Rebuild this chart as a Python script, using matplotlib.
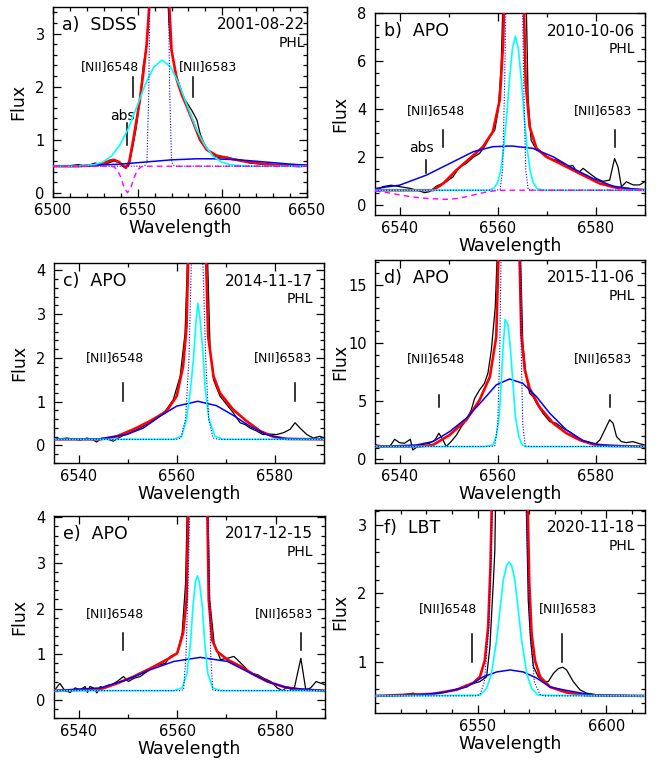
import numpy as np
import matplotlib
matplotlib.use('Agg')
import matplotlib.pyplot as plt
from matplotlib.ticker import MultipleLocator

# ---------------- a) SDSS 2001-08-22  (wavelength, flux)
a_obs = [(6500, 0.50), (6505, 0.50), (6510, 0.51), (6515, 0.53), (6518, 0.51), (6522, 0.53),
         (6525, 0.56), (6528, 0.53), (6532, 0.55), (6536, 0.60), (6539, 0.57), (6541, 0.50),
         (6543, 0.47), (6545, 0.53), (6547, 0.85), (6549, 1.20), (6551.3, 1.75), (6553.3, 2.40),
         (6555.3, 2.75), (6556.5, 3.30), (6558, 4.2), (6562.5, 10.0), (6567, 4.2), (6568.5, 3.2),
         (6569.5, 2.75), (6571, 2.50), (6573, 2.20), (6576, 1.90), (6578, 1.75), (6580, 1.65),
         (6582, 1.55), (6585, 1.37), (6587, 1.10), (6589, 0.94), (6592, 0.78), (6595, 0.69),
         (6599, 0.66), (6603, 0.67), (6607, 0.63), (6610.5, 0.62), (6613, 0.60), (6616, 0.56),
         (6620, 0.55), (6626, 0.53), (6632, 0.52), (6640, 0.50), (6645, 0.49), (6650, 0.50)]
a_fit = [(6500, 0.50), (6515, 0.50), (6525, 0.52), (6530, 0.56), (6534, 0.61), (6536, 0.62),
         (6539, 0.58), (6541, 0.52), (6543, 0.47), (6545, 0.58), (6547.4, 1.00), (6549.5, 1.40),
         (6551.3, 1.75), (6553.3, 2.25), (6555.3, 2.80), (6556.8, 3.50), (6558, 4.5), (6562.5, 12.0),
         (6567.5, 4.5), (6568.7, 3.50), (6570, 2.69), (6573.1, 2.13), (6576, 1.85), (6579, 1.63),
         (6583, 1.31), (6586.8, 1.00), (6590.8, 0.81), (6596.7, 0.70), (6606.6, 0.63), (6615, 0.58),
         (6625, 0.54), (6635, 0.52), (6650, 0.51)]
a_broad = [(6500, 0.50), (6520, 0.51), (6540, 0.54), (6555, 0.58), (6570, 0.62), (6585, 0.64),
           (6595, 0.64), (6610, 0.62), (6625, 0.58), (6640, 0.54), (6650, 0.52)]
a_inter = [(6500, 0.50), (6514.5, 0.50), (6524.5, 0.53), (6529.5, 0.58), (6534.5, 0.69),
           (6539.5, 0.90), (6544.5, 1.21), (6549.5, 1.62), (6554.5, 2.04), (6559.5, 2.37),
           (6564.5, 2.50), (6569.5, 2.37), (6574.5, 2.04), (6579.5, 1.62), (6584.5, 1.21),
           (6589.5, 0.90), (6594.5, 0.69), (6599.5, 0.58), (6604.5, 0.53), (6614.5, 0.50), (6650, 0.50)]
a_narrow = [(6500, 0.50), (6553, 0.50), (6554.5, 0.52), (6555.5, 0.60), (6556.5, 1.8), (6557.2, 3.6),
            (6559, 10), (6562.7, 20), (6566.5, 10), (6568.2, 3.6), (6569, 1.8), (6570, 0.60),
            (6571, 0.52), (6573, 0.50), (6650, 0.50)]
a_absorb = [(6500, 0.50), (6534, 0.50), (6536, 0.486), (6538, 0.432), (6540, 0.294), (6542, 0.10),
            (6544, 0.0), (6546, 0.10), (6548, 0.294), (6550, 0.432), (6552, 0.486), (6554, 0.50),
            (6650, 0.50)]

# ---------------- b) APO 2010-10-06
b_obs = [(6535.3, 0.64), (6536.6, 0.78), (6538.3, 0.84), (6540.0, 0.78), (6542.1, 0.71),
         (6543.4, 0.64), (6545.1, 0.53), (6546.1, 0.57), (6547.5, 0.80), (6549.5, 0.98),
         (6550.9, 1.19), (6552.2, 1.60), (6553.6, 1.74), (6555.0, 2.00), (6556.3, 2.16),
         (6557.3, 2.44), (6558.4, 2.85), (6559.4, 3.13), (6560.1, 3.96), (6560.7, 5.76),
         (6561.2, 9.5), (6563.4, 12.0), (6565.7, 9.5), (6566.2, 4.38), (6566.8, 2.71),
         (6567.9, 2.30), (6569.2, 2.16), (6570.6, 1.95), (6571.9, 1.88), (6573.3, 1.75),
         (6574.0, 1.60), (6575.3, 1.66), (6576.3, 1.33), (6577.4, 1.54), (6578.7, 1.33),
         (6580.1, 1.12), (6581.4, 1.00), (6582.8, 1.05), (6583.8, 1.95), (6584.5, 1.60),
         (6585.2, 0.78), (6586.2, 0.98), (6587.6, 0.85), (6588.9, 0.85), (6589.9, 0.98)]
b_fit = [(6535.0, 0.63), (6546.8, 0.63), (6548.9, 0.91), (6551.6, 1.47), (6554.3, 1.95),
         (6557.0, 2.44), (6559.0, 3.06), (6560.4, 4.38), (6561.1, 6.73), (6561.4, 9.5),
         (6563.3, 14.0), (6565.2, 9.5), (6565.7, 5.07), (6566.5, 3.27), (6567.9, 2.37),
         (6569.9, 2.02), (6572.6, 1.75), (6575.3, 1.47), (6578.0, 1.19), (6580.8, 0.91),
         (6584.2, 0.73), (6587.6, 0.66), (6590.0, 0.64)]
b_broad = [(6535.0, 0.70), (6540.0, 0.84), (6545.5, 1.26), (6550.2, 1.74), (6555.0, 2.23),
           (6559.0, 2.44), (6562.8, 2.47), (6567.2, 2.37), (6571.3, 2.02), (6575.3, 1.54),
           (6579.4, 1.12), (6583.5, 0.80), (6587.6, 0.68), (6590.0, 0.64)]
b_inter = [(6535.0, 0.63), (6558.1, 0.63), (6559.2, 0.71), (6560.0, 0.96), (6560.6, 1.45),
           (6561.2, 2.35), (6561.8, 3.68), (6562.4, 5.24), (6563.0, 6.52), (6563.6, 7.03),
           (6564.2, 6.52), (6564.8, 5.24), (6565.4, 3.68), (6566.0, 2.35), (6566.6, 1.45),
           (6567.2, 0.96), (6568.0, 0.71), (6569.1, 0.63), (6590.0, 0.63)]
b_narrow = [(6535.0, 0.63), (6559.5, 0.63), (6560.5, 0.66), (6561.0, 1.5), (6561.4, 5.0),
            (6561.7, 9.0), (6563.4, 20.0), (6565.0, 9.0), (6565.3, 5.0), (6565.7, 1.5),
            (6566.2, 0.66), (6567.2, 0.63), (6590.0, 0.63)]
b_absorb = [(6535.0, 0.60), (6537.5, 0.53), (6540.0, 0.44), (6542.5, 0.35), (6545.5, 0.29),
            (6549.5, 0.25), (6552.0, 0.29), (6554.0, 0.38), (6556.0, 0.48), (6558.0, 0.57),
            (6560.0, 0.62), (6562.0, 0.63), (6590.0, 0.63)]

# ---------------- c) APO 2014-11-17
c_obs = [(6535.2, 0.14), (6536.2, 0.15), (6537.6, 0.17), (6538.9, 0.15), (6540.3, 0.12),
         (6541.7, 0.17), (6542.7, 0.14), (6543.7, 0.08), (6544.7, 0.17), (6545.7, 0.15),
         (6547.1, 0.10), (6548.1, 0.17), (6549.1, 0.23), (6550.1, 0.27), (6551.2, 0.33),
         (6552.5, 0.40), (6554.6, 0.52), (6556.6, 0.67), (6557.9, 0.82), (6559.3, 1.05),
         (6560.7, 1.58), (6561.7, 2.57), (6562.4, 5.0), (6564.2, 10.0), (6566.1, 5.0),
         (6566.8, 2.19), (6567.5, 1.50), (6568.8, 1.13), (6571.5, 0.75), (6572.9, 0.52),
         (6573.9, 0.48), (6574.9, 0.40), (6576.3, 0.33), (6577.6, 0.25), (6579.0, 0.26),
         (6580.3, 0.25), (6581.7, 0.29), (6583.1, 0.37), (6584.1, 0.52), (6585.1, 0.40),
         (6586.5, 0.25), (6587.8, 0.17), (6589.2, 0.21), (6590.0, 0.17)]
c_fit = [(6535.0, 0.14), (6544.4, 0.14), (6547.8, 0.21), (6551.2, 0.37), (6554.6, 0.56),
         (6557.9, 0.78), (6560.0, 1.13), (6561.3, 1.81), (6562.0, 2.72), (6562.5, 5.0),
         (6564.2, 12.0), (6565.8, 5.0), (6566.4, 2.49), (6567.5, 1.58), (6568.8, 1.20),
         (6571.5, 0.82), (6574.2, 0.56), (6577.0, 0.33), (6579.7, 0.20), (6582.4, 0.15),
         (6590.0, 0.14)]
c_broad = [(6535.0, 0.14), (6544.4, 0.15), (6549.8, 0.25), (6553.2, 0.40), (6556.6, 0.67),
           (6560.0, 0.90), (6564.3, 1.01), (6568.1, 0.91), (6571.5, 0.69), (6574.9, 0.44),
           (6578.3, 0.25), (6581.7, 0.16), (6590.0, 0.14)]
c_inter = [(6535.0, 0.14), (6559.3, 0.14), (6561.0, 0.21), (6562.0, 0.59), (6562.8, 1.28),
           (6563.4, 1.96), (6563.9, 2.80), (6564.3, 3.25), (6564.7, 2.94), (6565.3, 2.18),
           (6565.8, 1.28), (6566.6, 0.59), (6567.8, 0.21), (6569.5, 0.14), (6590.0, 0.14)]
c_narrow = [(6535.0, 0.14), (6560.0, 0.14), (6560.8, 0.17), (6561.8, 0.6), (6562.5, 2.0),
            (6563.0, 4.3), (6564.2, 10.0), (6565.3, 4.3), (6565.9, 2.0), (6566.5, 0.6),
            (6567.4, 0.17), (6568.5, 0.14), (6590.0, 0.14)]

# ---------------- d) APO 2015-11-06
d_obs = [(6535.3, 1.23), (6536.6, 1.15), (6538.0, 1.09), (6539.0, 1.72), (6540.0, 1.43),
         (6541.0, 1.38), (6542.2, 1.72), (6542.7, 0.80), (6544.1, 1.23), (6546.1, 1.38),
         (6547.2, 1.66), (6548.0, 2.24), (6548.8, 1.72), (6549.5, 1.09), (6550.5, 1.52),
         (6551.6, 2.09), (6552.6, 2.81), (6553.6, 3.38), (6554.6, 4.24), (6555.3, 5.25),
         (6556.3, 5.97), (6557.3, 6.54), (6558.0, 7.40), (6558.7, 9.40), (6559.5, 13.1),
         (6560.1, 20.0), (6562.5, 40.0), (6564.5, 20.0), (6565.1, 10.0), (6565.8, 7.10),
         (6566.5, 5.68), (6567.2, 5.39), (6567.9, 4.82), (6569.2, 3.96), (6570.6, 3.24),
         (6571.9, 3.10), (6573.3, 2.67), (6574.6, 2.38), (6576.0, 1.95), (6577.4, 1.52),
         (6578.7, 1.43), (6579.7, 1.23), (6580.8, 1.66), (6581.8, 2.52), (6582.8, 3.40),
         (6583.5, 3.10), (6584.2, 1.95), (6585.2, 1.52), (6586.2, 1.43), (6587.5, 1.52),
         (6588.6, 1.38), (6589.9, 1.23)]
d_fit = [(6535.0, 1.10), (6544.1, 1.10), (6546.8, 1.23), (6550.2, 2.09), (6553.6, 3.38),
         (6556.3, 5.10), (6558.4, 7.10), (6559.7, 10.55), (6560.3, 20.0), (6562.5, 45.0),
         (6564.3, 20.0), (6564.8, 10.8), (6565.5, 7.70), (6566.5, 6.10), (6568.5, 4.50),
         (6571.3, 3.10), (6574.0, 2.24), (6576.7, 1.66), (6579.4, 1.29), (6582.8, 1.15),
         (6590.0, 1.10)]
d_broad = [(6535.0, 1.09), (6543.4, 1.23), (6546.8, 1.52), (6550.2, 2.38), (6553.6, 3.53),
           (6557.0, 5.10), (6559.7, 6.40), (6562.4, 6.91), (6565.1, 6.54), (6567.9, 5.39),
           (6570.6, 3.96), (6574.0, 2.52), (6577.4, 1.61), (6580.8, 1.23), (6590.0, 1.09)]
d_inter = [(6535.0, 1.10), (6557.3, 1.09), (6559.0, 1.23), (6559.7, 1.95), (6560.3, 3.67),
           (6560.7, 6.54), (6561.1, 9.69), (6561.5, 12.04), (6562.1, 11.56), (6562.6, 9.41),
           (6563.1, 6.54), (6563.6, 3.67), (6564.3, 1.95), (6565.0, 1.23), (6565.8, 1.09),
           (6590.0, 1.10)]
d_narrow = [(6535.0, 1.10), (6558.5, 1.10), (6559.4, 1.15), (6560.0, 3.0), (6560.4, 9.0),
            (6560.7, 18.0), (6562.6, 40.0), (6564.5, 18.0), (6564.8, 9.0), (6565.1, 3.0),
            (6565.6, 1.15), (6566.5, 1.10), (6590.0, 1.10)]

# ---------------- e) APO 2017-12-15
e_obs = [(6535.2, 0.22), (6536.2, 0.36), (6537.2, 0.20), (6538.3, 0.16), (6539.3, 0.26),
         (6540.3, 0.22), (6541.3, 0.29), (6541.8, 0.16), (6542.3, 0.29), (6543.0, 0.26),
         (6543.7, 0.15), (6544.4, 0.29), (6545.0, 0.26), (6545.7, 0.31), (6546.7, 0.33),
         (6547.8, 0.40), (6549.1, 0.51), (6550.1, 0.40), (6551.2, 0.47), (6552.5, 0.51),
         (6553.9, 0.62), (6555.2, 0.73), (6556.6, 0.77), (6557.6, 0.80), (6558.6, 0.95),
         (6560.0, 1.02), (6561.0, 1.46), (6561.7, 2.55), (6562.2, 5.0), (6564.0, 10.0),
         (6566.1, 5.0), (6566.6, 2.19), (6567.5, 1.24), (6568.8, 0.88), (6570.2, 0.91),
         (6571.5, 0.95), (6572.2, 0.88), (6573.6, 0.73), (6574.9, 0.58), (6576.3, 0.55),
         (6577.6, 0.47), (6579.0, 0.40), (6580.3, 0.26), (6581.4, 0.20), (6582.4, 0.29),
         (6583.1, 0.22), (6583.7, 0.22), (6585.1, 0.91), (6586.1, 0.22), (6587.1, 0.26),
         (6588.2, 0.40), (6589.2, 0.36), (6590.0, 0.33)]
e_fit = [(6535.0, 0.20), (6544.4, 0.23), (6547.8, 0.36), (6551.2, 0.51), (6554.6, 0.69),
         (6557.9, 0.88), (6560.0, 1.02), (6561.2, 1.46), (6561.9, 2.19), (6562.4, 5.0),
         (6564.0, 12.0), (6566.0, 5.0), (6566.4, 2.19), (6567.1, 1.31), (6568.1, 1.06),
         (6570.2, 0.88), (6572.9, 0.73), (6575.6, 0.55), (6578.3, 0.40), (6581.7, 0.28),
         (6585.1, 0.22), (6590.0, 0.20)]
e_broad = [(6535.0, 0.20), (6544.4, 0.26), (6549.8, 0.44), (6554.6, 0.66), (6559.3, 0.84),
           (6564.7, 0.93), (6570.2, 0.84), (6574.2, 0.62), (6578.3, 0.40), (6582.4, 0.26),
           (6590.0, 0.20)]
e_inter = [(6535.0, 0.20), (6559.3, 0.20), (6561.0, 0.26), (6562.0, 0.58), (6562.7, 1.24),
           (6563.2, 2.04), (6563.7, 2.59), (6564.1, 2.72), (6564.5, 2.59), (6565.1, 2.04),
           (6565.6, 1.24), (6566.2, 0.58), (6567.2, 0.26), (6568.8, 0.20), (6590.0, 0.20)]
e_narrow = [(6535.0, 0.20), (6560.5, 0.20), (6561.3, 0.22), (6561.8, 1.0), (6562.2, 2.5),
            (6562.6, 4.5), (6564.3, 9.0), (6566.1, 4.5), (6566.5, 2.5), (6566.8, 1.0),
            (6567.2, 0.22), (6568.0, 0.20), (6590.0, 0.20)]

# ---------------- f) LBT 2020-11-18
f_obs = [(6510.0, 0.50), (6519.6, 0.51), (6524.8, 0.54), (6527.4, 0.51), (6532.6, 0.53),
         (6537.8, 0.56), (6543.0, 0.61), (6545.6, 0.66), (6548.2, 0.68), (6550.8, 0.71),
         (6553.4, 0.78), (6554.7, 1.22), (6555.3, 1.66), (6556.0, 2.15), (6556.6, 2.63),
         (6557.0, 3.6), (6563.0, 8.0), (6568.7, 3.6), (6569.6, 1.90), (6570.5, 1.32),
         (6571.6, 0.93), (6573.5, 0.78), (6575.5, 0.71), (6577.4, 0.71), (6579.4, 0.83),
         (6581.3, 0.90), (6583.0, 0.92), (6584.5, 0.88), (6587.1, 0.71), (6589.7, 0.59),
         (6592.3, 0.54), (6597.5, 0.51), (6604.0, 0.50)]
f_fit = [(6510.0, 0.50), (6532.6, 0.53), (6541.7, 0.59), (6548.2, 0.69), (6550.8, 0.78),
         (6552.7, 1.02), (6554.0, 1.51), (6554.9, 2.39), (6555.6, 3.6), (6563.0, 8.0),
         (6569.2, 3.6), (6570.0, 2.15), (6570.9, 1.41), (6572.2, 1.02), (6574.2, 0.78),
         (6578.1, 0.63), (6584.5, 0.55), (6592.3, 0.51), (6615.0, 0.50)]
f_broad = [(6510.0, 0.50), (6526.1, 0.51), (6536.5, 0.55), (6545.6, 0.63), (6552.1, 0.78),
           (6557.3, 0.85), (6562.5, 0.88), (6567.7, 0.85), (6572.9, 0.76), (6578.1, 0.63),
           (6584.5, 0.58), (6594.9, 0.51), (6615.0, 0.50)]
f_inter = [(6510.0, 0.50), (6550.8, 0.51), (6553.4, 0.61), (6555.3, 0.83), (6557.3, 1.32),
           (6558.6, 1.76), (6559.9, 2.20), (6561.2, 2.41), (6562.1, 2.46), (6563.1, 2.41),
           (6564.4, 2.20), (6565.7, 1.76), (6567.0, 1.32), (6569.0, 0.83), (6570.9, 0.61),
           (6573.5, 0.51), (6615.0, 0.50)]
f_narrow = [(6510.0, 0.50), (6549.0, 0.50), (6550.8, 0.52), (6552.5, 0.70), (6554.3, 1.5),
            (6555.7, 3.3), (6562.2, 8.0), (6568.7, 3.3), (6570.2, 1.5), (6572.0, 0.70),
            (6574.2, 0.52), (6576.0, 0.50), (6615.0, 0.50)]

# panel texts and line markers
labels = ['a)  SDSS', 'b)  APO', 'c)  APO', 'd)  APO', 'e)  APO', 'f)  LBT']
dates = ['2001-08-22', '2010-10-06', '2014-11-17', '2015-11-06', '2017-12-15', '2020-11-18']
nii_text_x = [(6533.7, 6591.6), (6547.4, 6581.4), (6547.4, 6581.6), (6547.4, 6581.4), (6547.4, 6581.6), (6538.4, 6585.2)]
nii_text_y = [2.37, 3.96, 2.0, 8.7, 1.9, 1.78]
nii_mark_x = [(6547.4, 6582.9), (6548.85, 6583.8), (6549.1, 6584.0), (6548.0, 6582.8), (6549.1, 6585.1), (6547.9, 6582.9)]
nii_mark_y = [(1.81, 2.19), (2.44, 3.13), (1.01, 1.43), (4.5, 5.5), (1.09, 1.46), (1.0, 1.41)]
abs_text = {0: (6541.3, 1.44), 1: (6544.4, 2.37)}
abs_mark = {0: (6543.7, 0.90, 1.31), 1: (6545.3, 1.33, 1.90)}

# axes setup: pixel boxes (left, top, right, bottom), limits, tick steps
W, H = 666, 761
boxes = [(53, 7, 307, 197), (375, 13, 645, 215), (54, 263, 324, 463),
         (375, 260, 645, 463), (54, 516, 325, 718), (375, 510, 645, 713)]
xlims = [(6500, 6650), (6535, 6590), (6535, 6590), (6535, 6590), (6535, 6590), (6510, 6615)]
ylims = [(-0.08, 3.5), (-0.4, 8.0), (-0.4, 4.17), (-0.32, 17.15), (-0.4, 4.03), (0.25, 3.22)]
xsteps = [(50, 10), (20, 10), (20, 10), (20, 10), (20, 10), (50, 10)]
ysteps = [(1, 0.2), (2, 0.5), (1, 0.2), (5, 1), (1, 0.2), (1, 0.2)]
date_dx = [-2, -10, -11, -10, -12, -10]

spectra = [
    (a_obs, a_fit, a_broad, a_inter, a_narrow, a_absorb),
    (b_obs, b_fit, b_broad, b_inter, b_narrow, b_absorb),
    (c_obs, c_fit, c_broad, c_inter, c_narrow, None),
    (d_obs, d_fit, d_broad, d_inter, d_narrow, None),
    (e_obs, e_fit, e_broad, e_inter, e_narrow, None),
    (f_obs, f_fit, f_broad, f_inter, f_narrow, None),
]

plt.rcParams['font.family'] = 'DejaVu Sans'
fig = plt.figure(figsize=(W / 100, H / 100), dpi=100)

for i, (obs, fit, broad, inter, narrow, absorb) in enumerate(spectra):
    l, t, r, b = boxes[i]
    ax = fig.add_axes([l / W, 1 - b / H, (r - l) / W, (b - t) / H])
    ax.plot(*zip(*obs), color='black', lw=0.9, zorder=2)
    ax.plot(*zip(*fit), color='red', lw=1.9, zorder=3)
    ax.plot(*zip(*broad), color='blue', lw=1.1, zorder=4)
    ax.plot(*zip(*inter), color='cyan', lw=1.2, zorder=5)
    ax.plot(*zip(*narrow), color='blue', lw=0.8, ls=(0, (1, 1.5)), zorder=5)
    if absorb is not None:
        ax.plot(*zip(*absorb), color='magenta', lw=1.0, ls=(0, (4, 3)), zorder=6)

    ax.set_xlim(*xlims[i])
    ax.set_ylim(*ylims[i])
    ax.xaxis.set_major_locator(MultipleLocator(xsteps[i][0]))
    ax.xaxis.set_minor_locator(MultipleLocator(xsteps[i][1]))
    ax.yaxis.set_major_locator(MultipleLocator(ysteps[i][0]))
    ax.yaxis.set_minor_locator(MultipleLocator(ysteps[i][1]))
    ax.tick_params(which='both', direction='in', top=True, right=True, width=0.9, labelsize=10.5)
    ax.tick_params(which='major', length=5.5)
    ax.tick_params(which='minor', length=3)
    ax.tick_params(axis='x', pad=4.5)
    ax.tick_params(axis='y', pad=6)
    for s in ax.spines.values():
        s.set_linewidth(1.0)

    hpx = b - t
    wpx = r - l
    ax.set_xlabel('Wavelength', fontsize=12.5)
    ax.xaxis.set_label_coords(0.5, -22 / hpx)
    ax.set_ylabel('Flux', fontsize=12.5)
    ax.yaxis.set_label_coords(-26 / wpx, 0.5)

    ax.annotate(labels[i], xy=(0, 1), xycoords='axes fraction', xytext=(9, -18),
                textcoords='offset pixels', ha='left', va='center', fontsize=12.5)
    ax.annotate(dates[i], xy=(1, 1), xycoords='axes fraction', xytext=(date_dx[i], -18),
                textcoords='offset pixels', ha='right', va='center', fontsize=11)
    ax.annotate('PHL', xy=(1, 1), xycoords='axes fraction', xytext=(date_dx[i], -36),
                textcoords='offset pixels', ha='right', va='center', fontsize=10)

    for k, name in enumerate(['[NII]6548', '[NII]6583']):
        ax.text(nii_text_x[i][k], nii_text_y[i], name, ha='center', va='center', fontsize=9)
        ax.plot([nii_mark_x[i][k]] * 2, nii_mark_y[i], color='black', lw=1.1)
    if i in abs_text:
        ax.text(abs_text[i][0], abs_text[i][1], 'abs', ha='center', va='center', fontsize=10)
        mx, y0, y1 = abs_mark[i]
        ax.plot([mx, mx], [y0, y1], color='black', lw=1.1)

fig.savefig('out.png', dpi=100)
